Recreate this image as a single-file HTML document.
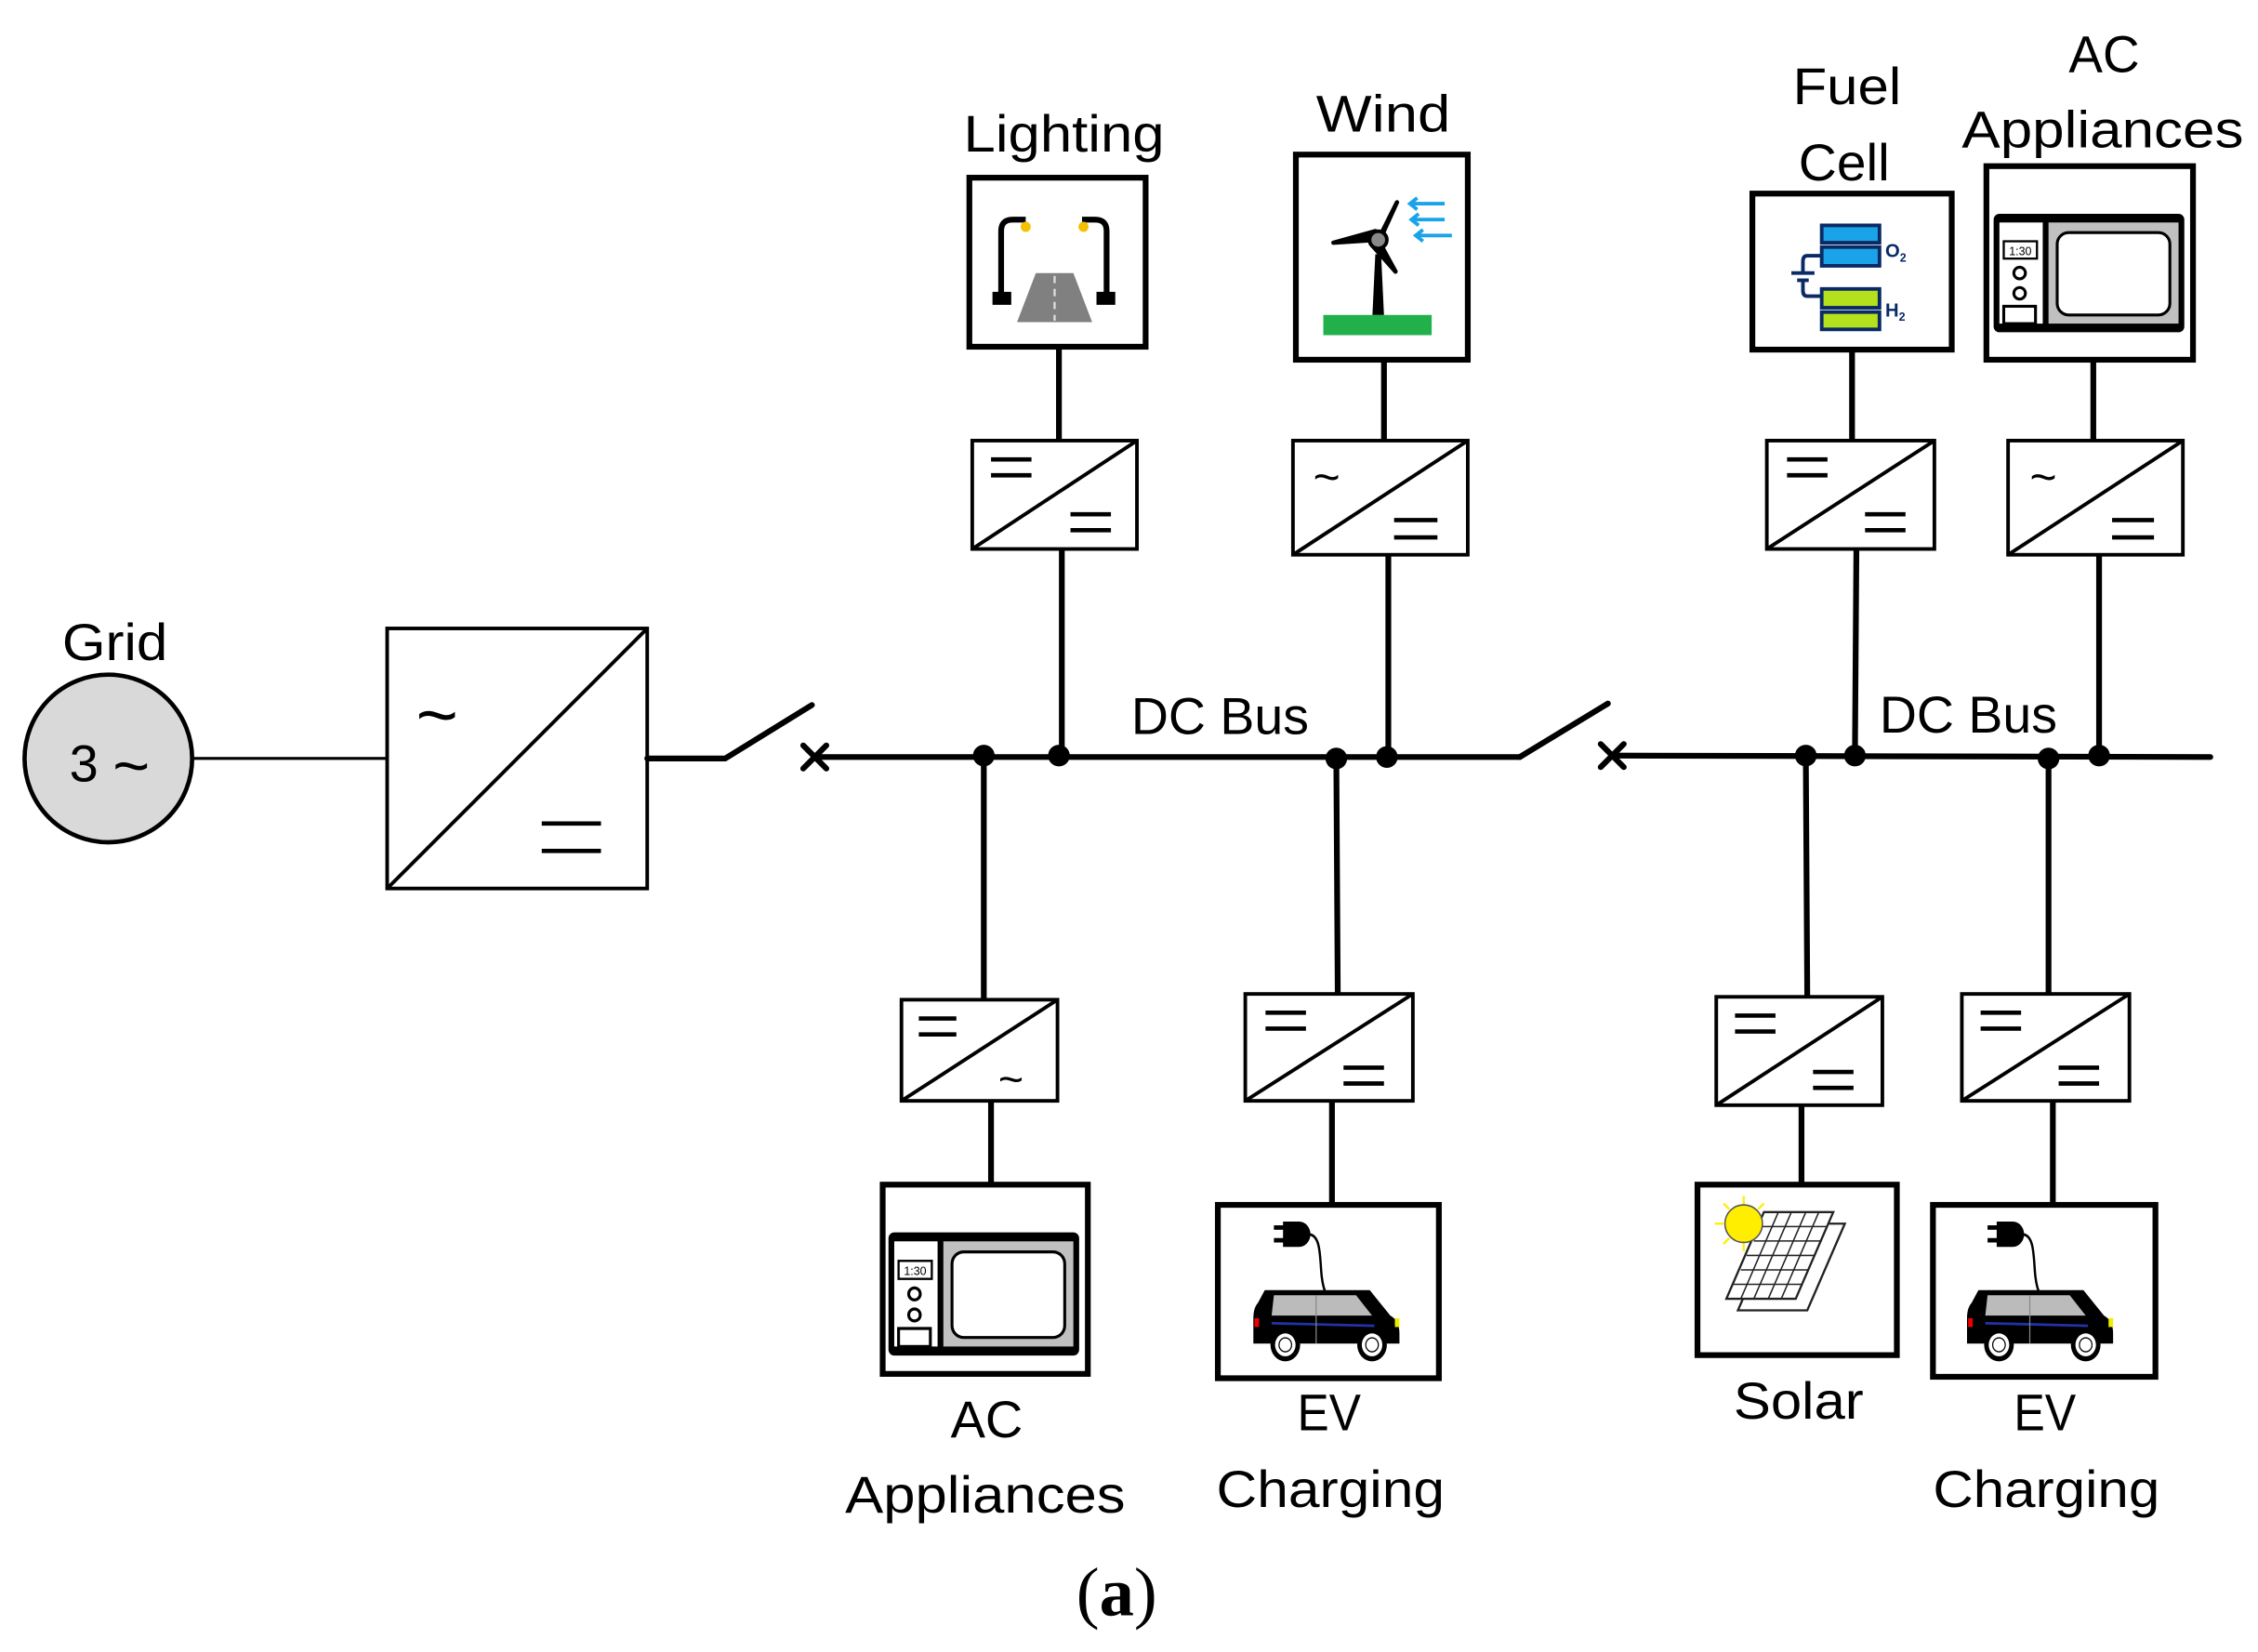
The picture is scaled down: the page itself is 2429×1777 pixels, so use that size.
<!DOCTYPE html>
<html><head><meta charset="utf-8"><style>
html,body{margin:0;padding:0;background:#fff;}
svg{display:block;}
text{font-family:"Liberation Sans",sans-serif;fill:#000;}
</style></head><body>
<svg width="2429" height="1777" viewBox="0 0 1563 1143.5" preserveAspectRatio="none" xmlns="http://www.w3.org/2000/svg">
<defs>
<g id="mw">
  <rect x="0" y="0" width="132" height="82" rx="4" fill="#000"/>
  <rect x="4" y="6" width="30" height="70" fill="#fff"/>
  <rect x="38" y="6" width="90" height="70" fill="#c0c0c0"/>
  <rect x="44" y="13" width="78" height="57" rx="8" fill="#fff" stroke="#000" stroke-width="2"/>
  <rect x="7" y="19" width="23" height="12" fill="#fff" stroke="#000" stroke-width="1.5"/>
  <text x="18.5" y="28.5" font-size="8" text-anchor="middle">1:30</text>
  <circle cx="18" cy="41" r="4" fill="none" stroke="#000" stroke-width="2"/>
  <circle cx="18" cy="55" r="4" fill="none" stroke="#000" stroke-width="2"/>
  <rect x="7" y="64" width="22" height="12" fill="#fff" stroke="#000" stroke-width="2"/>
</g>
<g id="car">
  <path d="M28 4 h14 a10 10 0 0 1 0 20 h-14 z" fill="#000"/>
  <rect x="20" y="7" width="10" height="3.5" fill="#000"/>
  <rect x="20" y="17" width="10" height="3.5" fill="#000"/>
  <path d="M50 14 c12 0 10 20 12 34 c2 14 6 16 10 20" fill="none" stroke="#000" stroke-width="2"/>
  <path d="M12 58 h92 l18 20 q8 4 8 14 v8 h-128 v-20 q0 -8 4 -12 z" fill="#000"/>
  <path d="M20 62 h72 l14 16 h-88 z" fill="#bbb"/>
  <line x1="18" y1="84" x2="108" y2="86" stroke="#2233aa" stroke-width="2"/>
  <line x1="57" y1="62" x2="57" y2="100" stroke="#888" stroke-width="1"/>
  <rect x="3" y="80" width="4" height="7" fill="#e00"/>
  <rect x="126" y="80" width="4" height="7" fill="#ee0"/>
  <circle cx="30" cy="101" r="13" fill="#000"/><circle cx="30" cy="101" r="9" fill="#fff"/><circle cx="30" cy="101" r="6" fill="#000"/><circle cx="30" cy="101" r="5" fill="#fff"/>
  <circle cx="106" cy="101" r="13" fill="#000"/><circle cx="106" cy="101" r="9" fill="#fff"/><circle cx="106" cy="101" r="6" fill="#000"/><circle cx="106" cy="101" r="5" fill="#fff"/>
</g>
</defs>

<circle cx="75" cy="525" r="58" fill="#d9d9d9" stroke="#000" stroke-width="3"/>
<text x="48" y="541" font-size="36">3</text>
<text x="78" y="545" font-size="44">~</text>
<text x="43" y="457" font-size="36" textLength="73" lengthAdjust="spacingAndGlyphs">Grid</text>
<line x1="133" y1="525" x2="268" y2="525" stroke="#000" stroke-width="2"/>

<rect x="268" y="435" width="180" height="180" fill="#fff" stroke="#000" stroke-width="2.5"/>
<line x1="268" y1="615" x2="448" y2="435" stroke="#000" stroke-width="2.5"/>
<text x="288" y="512" font-size="50">~</text>
<line x1="375" y1="570" x2="416" y2="570" stroke="#000" stroke-width="3"/>
<line x1="375" y1="589" x2="416" y2="589" stroke="#000" stroke-width="3"/>

<g stroke="#000" stroke-width="4" fill="none" stroke-linecap="round">
<line x1="448" y1="525" x2="502" y2="525"/>
<line x1="502" y1="525" x2="562" y2="488"/>
<line x1="556" y1="516" x2="572" y2="532"/><line x1="572" y1="516" x2="556" y2="532"/>
<line x1="564" y1="524" x2="1052" y2="524"/>
<line x1="1052" y1="524" x2="1113" y2="487"/>
<line x1="1108" y1="515" x2="1124" y2="531"/><line x1="1124" y1="515" x2="1108" y2="531"/>
<line x1="1116" y1="523" x2="1530" y2="524"/>
</g>
<g fill="#000">
<circle cx="681" cy="523" r="7.5"/><circle cx="733" cy="523" r="7.5"/><circle cx="925" cy="525" r="7.5"/><circle cx="960" cy="524" r="7.5"/>
<circle cx="1250" cy="523" r="7.5"/><circle cx="1284" cy="523" r="7.5"/><circle cx="1418" cy="525" r="7.5"/><circle cx="1453" cy="523" r="7.5"/>
</g>
<text x="783" y="508" font-size="36" textLength="123" lengthAdjust="spacingAndGlyphs">DC Bus</text>
<text x="1301" y="507" font-size="36" textLength="123" lengthAdjust="spacingAndGlyphs">DC Bus</text>

<g stroke="#000" stroke-width="4">
<line x1="733" y1="240" x2="733" y2="305"/><line x1="735" y1="380" x2="735" y2="524"/>
<line x1="958" y1="249" x2="958" y2="305"/><line x1="961" y1="384" x2="961" y2="524"/>
<line x1="1282" y1="242" x2="1282" y2="305"/><line x1="1285" y1="380" x2="1284" y2="524"/>
<line x1="1449" y1="249" x2="1449" y2="305"/><line x1="1453" y1="384" x2="1453" y2="524"/>
<line x1="681" y1="524" x2="681" y2="692"/><line x1="686" y1="762" x2="686" y2="820"/>
<line x1="925" y1="524" x2="926" y2="688"/><line x1="922" y1="762" x2="922" y2="834"/>
<line x1="1250" y1="524" x2="1251" y2="690"/><line x1="1247" y1="765" x2="1247" y2="820"/>
<line x1="1418" y1="524" x2="1418" y2="688"/><line x1="1421" y1="762" x2="1421" y2="834"/>
</g>

<g stroke="#000" stroke-width="2.5" fill="#fff">
<rect x="673" y="305" width="114" height="75"/><line x1="673" y1="380" x2="787" y2="305"/>
<rect x="895" y="305" width="121" height="79"/><line x1="895" y1="384" x2="1016" y2="305"/>
<rect x="1223" y="305" width="116" height="75"/><line x1="1223" y1="380" x2="1339" y2="305"/>
<rect x="1390" y="305" width="121" height="79"/><line x1="1390" y1="384" x2="1511" y2="305"/>
<rect x="624" y="692" width="108" height="70"/><line x1="624" y1="762" x2="732" y2="692"/>
<rect x="862" y="688" width="116" height="74"/><line x1="862" y1="762" x2="978" y2="688"/>
<rect x="1188" y="690" width="115" height="75"/><line x1="1188" y1="765" x2="1303" y2="690"/>
<rect x="1358" y="688" width="116" height="74"/><line x1="1358" y1="762" x2="1474" y2="688"/>
</g>
<g stroke="#000" stroke-width="3">
<line x1="686" y1="318" x2="714" y2="318"/><line x1="686" y1="329" x2="714" y2="329"/>
<line x1="741" y1="356" x2="769" y2="356"/><line x1="741" y1="367" x2="769" y2="367"/>
<line x1="965" y1="360" x2="995" y2="360"/><line x1="965" y1="372" x2="995" y2="372"/>
<line x1="1237" y1="318" x2="1265" y2="318"/><line x1="1237" y1="329" x2="1265" y2="329"/>
<line x1="1291" y1="356" x2="1319" y2="356"/><line x1="1291" y1="367" x2="1319" y2="367"/>
<line x1="1462" y1="360" x2="1491" y2="360"/><line x1="1462" y1="372" x2="1491" y2="372"/>
<line x1="636" y1="705" x2="662" y2="705"/><line x1="636" y1="716" x2="662" y2="716"/>
<line x1="876" y1="701" x2="904" y2="701"/><line x1="876" y1="712" x2="904" y2="712"/>
<line x1="930" y1="739" x2="958" y2="739"/><line x1="930" y1="750" x2="958" y2="750"/>
<line x1="1201" y1="703" x2="1229" y2="703"/><line x1="1201" y1="714" x2="1229" y2="714"/>
<line x1="1255" y1="742" x2="1283" y2="742"/><line x1="1255" y1="753" x2="1283" y2="753"/>
<line x1="1371" y1="701" x2="1399" y2="701"/><line x1="1371" y1="712" x2="1399" y2="712"/>
<line x1="1425" y1="739" x2="1453" y2="739"/><line x1="1425" y1="750" x2="1453" y2="750"/>
</g>
<text x="909" y="341" font-size="32">~</text>
<text x="1405" y="341" font-size="32">~</text>
<text x="691" y="757" font-size="30">~</text>

<g stroke="#000" stroke-width="4" fill="#fff">
<rect x="671" y="123" width="122" height="117"/>
<rect x="897" y="107" width="119" height="142"/>
<rect x="1213" y="134" width="138" height="108"/>
<rect x="1375" y="115" width="143" height="134"/>
<rect x="611" y="820" width="142" height="131"/>
<rect x="843" y="834" width="153" height="120"/>
<rect x="1175" y="820" width="138" height="118"/>
<rect x="1338" y="834" width="154" height="119"/>
</g>

<path d="M693 208 V160 q0 -8 8 -8 h9" fill="none" stroke="#000" stroke-width="4"/>
<path d="M766 208 V160 q0 -8 -8 -8 h-9" fill="none" stroke="#000" stroke-width="4"/>
<rect x="687" y="202" width="13" height="9" fill="#000"/><rect x="759" y="202" width="13" height="9" fill="#000"/>
<circle cx="710" cy="157" r="3.5" fill="#f5c000"/><circle cx="750" cy="157" r="3.5" fill="#f5c000"/>
<path d="M717 189 h26 l13 34 h-52 z" fill="#808080"/>
<line x1="730" y1="191" x2="730" y2="222" stroke="#ddd" stroke-width="1.5" stroke-dasharray="5 4"/>

<rect x="916" y="218" width="75" height="14" fill="#22b04b"/>
<path d="M952 176 l4 0 l2 42 h-8 z" fill="#000"/>
<path d="M954 166 L967 140 L957 162 Z M954 166 L923 168 L952 160 Z M954 166 L966 188 L950 170 Z" fill="#000" stroke="#000" stroke-width="3" stroke-linejoin="round"/>
<circle cx="954" cy="166" r="6" fill="#888" stroke="#000" stroke-width="2.5"/>
<g stroke="#1aa3e8" stroke-width="2.5" fill="none">
<line x1="976" y1="141" x2="1000" y2="141"/><path d="M981 137 l-5 4 l5 4"/>
<line x1="977" y1="152" x2="1000" y2="152"/><path d="M982 148 l-5 4 l5 4"/>
<line x1="980" y1="163" x2="1005" y2="163"/><path d="M985 159 l-5 4 l5 4"/>
</g>

<g stroke="#0a2a66" stroke-width="2.5">
<rect x="1261" y="156" width="40" height="12" fill="#1aa3e8"/>
<rect x="1261" y="171" width="40" height="13" fill="#1aa3e8"/>
<rect x="1261" y="200" width="40" height="13" fill="#b5e01c"/>
<rect x="1261" y="216" width="40" height="12" fill="#b5e01c"/>
<path d="M1261 177 h-10 q-3 0 -3 4 v8 M1261 205 h-10 q-3 0 -3 -4 v-6" fill="none"/>
<line x1="1240" y1="189" x2="1256" y2="189"/><line x1="1244" y1="194" x2="1252" y2="194"/>
</g>
<text x="1305" y="178" font-size="13" font-weight="bold" style="fill:#0a2a66">O<tspan font-size="8" dy="3">2</tspan></text>
<text x="1305" y="219" font-size="13" font-weight="bold" style="fill:#0a2a66">H<tspan font-size="8" dy="3">2</tspan></text>

<use href="#mw" transform="translate(1380,148)"/>
<use href="#mw" transform="translate(615,853) scale(1.0,1.04)"/>

<use href="#car" transform="translate(866,842) scale(0.79,0.88)"/>
<use href="#car" transform="translate(1360,842) scale(0.79,0.88)"/>

<g stroke="#ffee00" stroke-width="1.5">
<line x1="1207" y1="828" x2="1207" y2="835"/><line x1="1207" y1="860" x2="1207" y2="866"/>
<line x1="1187" y1="847" x2="1193" y2="847"/><line x1="1221" y1="847" x2="1228" y2="847"/>
<line x1="1193" y1="833" x2="1197" y2="837"/><line x1="1193" y1="861" x2="1197" y2="857"/>
<line x1="1221" y1="833" x2="1217" y2="837"/>
</g>
<g fill="#fff" stroke="#222" stroke-width="1.5">
<path d="M1229 847 h48 l-26 60 h-48 z"/>
<path d="M1221 839 h48 l-26 60 h-48 z"/>
</g>
<g stroke="#222" stroke-width="1">
<line x1="1231" y1="839" x2="1205" y2="899"/><line x1="1240" y1="839" x2="1214" y2="899"/><line x1="1250" y1="839" x2="1224" y2="899"/><line x1="1259" y1="839" x2="1233" y2="899"/>
<line x1="1218" y1="849" x2="1265" y2="849"/><line x1="1214" y1="859" x2="1261" y2="859"/><line x1="1209" y1="869" x2="1256" y2="869"/><line x1="1205" y1="879" x2="1252" y2="879"/><line x1="1200" y1="889" x2="1248" y2="889"/>
</g>
<circle cx="1207" cy="847" r="13" fill="#ffee00" stroke="#555" stroke-width="1"/>

<g font-size="36">
<text x="667" y="105" textLength="139" lengthAdjust="spacingAndGlyphs">Lighting</text>
<text x="911" y="91" textLength="93" lengthAdjust="spacingAndGlyphs">Wind</text>
<text x="1241" y="72" textLength="75" lengthAdjust="spacingAndGlyphs">Fuel</text>
<text x="1245" y="125" textLength="63" lengthAdjust="spacingAndGlyphs">Cell</text>
<text x="1432" y="50" textLength="49" lengthAdjust="spacingAndGlyphs">AC</text>
<text x="1358" y="102" textLength="195" lengthAdjust="spacingAndGlyphs">Appliances</text>
<text x="658" y="995" textLength="50" lengthAdjust="spacingAndGlyphs">AC</text>
<text x="585" y="1047" textLength="194" lengthAdjust="spacingAndGlyphs">Appliances</text>
<text x="898" y="990" textLength="44" lengthAdjust="spacingAndGlyphs">EV</text>
<text x="842" y="1043" textLength="158" lengthAdjust="spacingAndGlyphs">Charging</text>
<text x="1200" y="982" textLength="90" lengthAdjust="spacingAndGlyphs">Solar</text>
<text x="1394" y="990" textLength="43" lengthAdjust="spacingAndGlyphs">EV</text>
<text x="1338" y="1043" textLength="157" lengthAdjust="spacingAndGlyphs">Charging</text>
</g>
<text x="773" y="1118" font-size="48" text-anchor="middle" style="font-family:'Liberation Serif',serif">(<tspan font-weight="bold">a</tspan>)</text>
</svg>
</body></html>
